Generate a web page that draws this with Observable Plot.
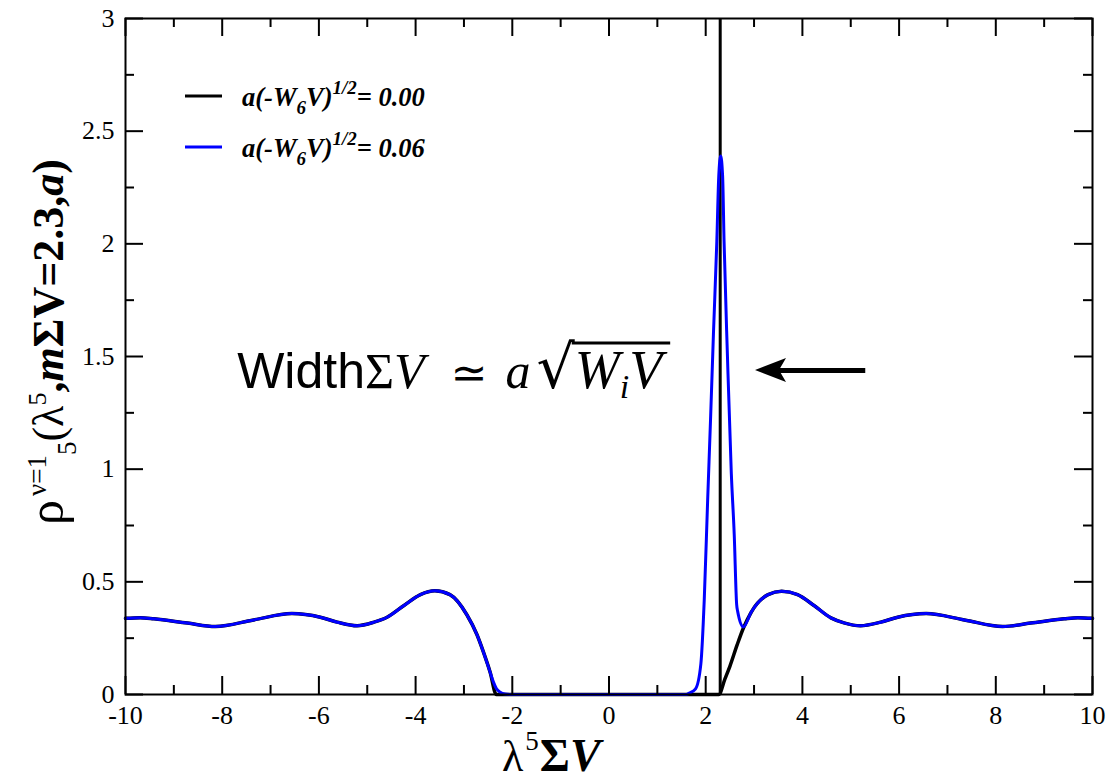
<!DOCTYPE html>
<html><head><meta charset="utf-8">
<script src="https://cdn.jsdelivr.net/npm/d3@7"></script>
<script src="https://cdn.jsdelivr.net/npm/@observablehq/plot@0.6"></script>
<style>body{margin:0;background:#fff;} svg{display:block}</style>
</head><body>
<div id="chart"></div>
<script>
// ---- data ----
const blackX = [-10, -9.7, -9.41, -8.72, -8.14, -7.35, -6.56, -5.97, -5.62, -5.21, -4.86, -4.59, -4.24, -3.9, -3.6, -3.29, -2.94, -2.73, -2.6, -2.46, -2.33, 2.27, 2.4, 2.5, 2.65, 2.78, 2.94, 3.29, 3.57, 3.9, 4.24, 4.59, 4.86, 5.2, 5.62, 5.97, 6.56, 7.35, 8.14, 8.72, 9.41, 9.7, 10];
const blackY = [0.338, 0.341, 0.336, 0.317, 0.302, 0.331, 0.359, 0.343, 0.321, 0.305, 0.321, 0.343, 0.395, 0.443, 0.46, 0.443, 0.354, 0.265, 0.19, 0.10, 0, 0, 0.07, 0.125, 0.22, 0.295, 0.365, 0.443, 0.458, 0.443, 0.395, 0.34, 0.318, 0.305, 0.321, 0.343, 0.359, 0.331, 0.302, 0.317, 0.336, 0.341, 0.338];
const blueX = [-10, -9.7, -9.41, -8.72, -8.14, -7.35, -6.56, -5.97, -5.62, -5.21, -4.86, -4.59, -4.24, -3.9, -3.6, -3.29, -2.94, -2.73, -2.6, -2.46, -2.39, -2.33, -2.25, -2.15, -2.05, 1.6, 1.66, 1.79, 1.9, 1.97, 2.04, 2.1, 2.16, 2.23, 2.27, 2.31, 2.35, 2.38, 2.45, 2.53, 2.59, 2.64, 2.66, 2.78, 2.94, 3.29, 3.57, 3.9, 4.24, 4.59, 4.86, 5.2, 5.62, 5.97, 6.56, 7.35, 8.14, 8.72, 9.41, 9.7, 10];
const blueY = [0.338, 0.341, 0.336, 0.317, 0.302, 0.331, 0.359, 0.343, 0.321, 0.305, 0.321, 0.343, 0.395, 0.443, 0.46, 0.443, 0.354, 0.265, 0.19, 0.10, 0.055, 0.027, 0.01, 0.002, 0, 0, 0.006, 0.025, 0.136, 0.42, 0.86, 1.22, 1.6, 2.01, 2.3, 2.39, 2.3, 2.01, 1.5, 0.98, 0.71, 0.40, 0.37, 0.30, 0.365, 0.443, 0.458, 0.443, 0.395, 0.34, 0.318, 0.305, 0.321, 0.343, 0.359, 0.331, 0.302, 0.317, 0.336, 0.341, 0.338];
const deltaX = [2.3];               // delta peak of the a = 0 curve
const xMajor = [-10, -8, -6, -4, -2, 0, 2, 4, 6, 8, 10];
const xMinor = [-9, -7, -5, -3, -1, 1, 3, 5, 7, 9];
const yMajor = [0, 0.5, 1, 1.5, 2, 2.5, 3];
const yMinor = [0.25, 0.75, 1.25, 1.75, 2.25, 2.75];
const seriesNames = ["0.00", "0.06"];
const seriesColors = ["#000000", "#0000ff"];

// ---- layout ----
const W = 1108, H = 781, mL = 125, mR = 16, mT = 18, mB = 87;
const fw = W - mL - mR, fh = H - mT - mB;
const majorLen = 18, minorLen = 9;
const arrowFrom = {x: 5.3, y: 1.438}, arrowTip = {x: 3.03, y: 1.438};
const annot = {x: -7.68, y: 1.358};
const serifFont = "'Liberation Serif', 'Times New Roman', serif";

const black = blackX.map((x, i) => ({x, y: blackY[i]}));
const blue = blueX.map((x, i) => ({x, y: blueY[i]}));

const tickStyle = {stroke: "black", strokeWidth: 2};
const plot = Plot.plot({
  width: W, height: H,
  marginLeft: mL, marginRight: mR, marginTop: mT, marginBottom: mB,
  style: {fontFamily: serifFont, fontSize: "26px", color: "black", background: "white"},
  x: {domain: [-10, 10]},
  y: {domain: [0, 3]},
  marks: [
    Plot.axisX(xMajor, {anchor: "bottom", tickSize: 0, tickPadding: 11, tickFormat: d => String(d), label: null, fontSize: 26, fontFamily: serifFont, fill: "black"}),
    Plot.axisY(yMajor, {anchor: "left", tickSize: 0, tickPadding: 11, tickFormat: d => String(d), label: null, fontSize: 26, fontFamily: serifFont, fill: "black"}),
    Plot.ruleX(deltaX, {x: d => d, y1: 0, y2: 3, stroke: "black", strokeWidth: 3}),
    Plot.line(black, {x: "x", y: "y", stroke: seriesColors[0], strokeWidth: 3.5, curve: "monotone-x"}),
    Plot.line(blue, {x: "x", y: "y", stroke: seriesColors[1], strokeWidth: 3, curve: "monotone-x"}),
    // inward ticks on all four sides
    Plot.tickX(xMajor, {x: d => d, insetTop: fh - majorLen, ...tickStyle}),
    Plot.tickX(xMinor, {x: d => d, insetTop: fh - minorLen, ...tickStyle}),
    Plot.tickX(xMajor, {x: d => d, insetBottom: fh - majorLen, ...tickStyle}),
    Plot.tickX(xMinor, {x: d => d, insetBottom: fh - minorLen, ...tickStyle}),
    Plot.tickY(yMajor, {y: d => d, insetRight: fw - majorLen, ...tickStyle}),
    Plot.tickY(yMinor, {y: d => d, insetRight: fw - minorLen, ...tickStyle}),
    Plot.tickY(yMajor, {y: d => d, insetLeft: fw - majorLen, ...tickStyle}),
    Plot.tickY(yMinor, {y: d => d, insetLeft: fw - minorLen, ...tickStyle}),
    Plot.frame({stroke: "black", strokeWidth: 2}),
    Plot.link([{x1: arrowFrom.x, x2: arrowTip.x + 0.45, y1: arrowFrom.y, y2: arrowTip.y}],
      {x1: "x1", x2: "x2", y1: "y1", y2: "y2", stroke: "black", strokeWidth: 5})
  ]
});
document.getElementById("chart").append(plot);

const sx = plot.scale("x"), sy = plot.scale("y");
const svg = d3.select(plot);
const layer = svg.append("g").attr("text-anchor", "start");

// arrow head
{
  const tx = sx.apply(arrowTip.x), ty = sy.apply(arrowTip.y);
  layer.append("path").attr("fill", "black")
    .attr("d", `M${tx},${ty}L${tx + 31},${ty - 12}L${tx + 24},${ty}L${tx + 31},${ty + 12}Z`);
}

// legend
seriesNames.forEach((name, i) => {
  const ly = 96 + i * 51;
  layer.append("line").attr("x1", 185).attr("x2", 222).attr("y1", ly).attr("y2", ly)
    .attr("stroke", seriesColors[i]).attr("stroke-width", 3);
  const t = layer.append("text").attr("x", 242).attr("y", ly + 10).attr("text-anchor", "start")
    .attr("font-family", serifFont).attr("font-weight", "bold")
    .attr("font-style", "italic").attr("font-size", 26.5).attr("fill", "black");
  t.append("tspan").text("a(-W");
  t.append("tspan").attr("font-size", 19).attr("dy", 8).text("6");
  t.append("tspan").attr("dy", -8).text("V)");
  t.append("tspan").attr("font-size", 19).attr("dy", -12).text("1/2");
  t.append("tspan").attr("dy", 12).text("= " + name);
});

// x axis label
{
  const t = layer.append("text").attr("x", 502).attr("y", 771).attr("text-anchor", "start")
    .attr("font-family", serifFont).attr("font-size", 44).attr("fill", "black");
  t.append("tspan").text("λ");
  t.append("tspan").attr("font-size", 27).attr("dy", -21).attr("dx", 2).text("5");
  t.append("tspan").attr("dy", 21).attr("dx", 1).attr("font-size", 46).attr("font-weight", "bold").text("Σ");
  t.append("tspan").attr("font-size", 46).attr("font-weight", "bold").attr("font-style", "italic").text("V");
}

// y axis label (rotated)
{
  const g = layer.append("g").attr("transform", "translate(63,525) rotate(-90)");
  const t = g.append("text").attr("x", 0).attr("y", 0).attr("text-anchor", "start")
    .attr("font-family", serifFont).attr("font-size", 44).attr("fill", "black");
  t.append("tspan").attr("font-size", 50).text("ρ");
  t.append("tspan").attr("font-size", 27).attr("dy", -17).attr("dx", 4).text("ν=1");
  t.append("tspan").attr("font-size", 27).attr("dy", 30).text("5");
  t.append("tspan").attr("dy", -13).text("(λ");
  t.append("tspan").attr("font-size", 26).attr("dy", -17).text("5");
  t.append("tspan").attr("dy", 17).attr("font-weight", "bold").text(",");
  t.append("tspan").attr("font-weight", "bold").attr("font-style", "italic").text("m");
  t.append("tspan").attr("font-weight", "bold").text("ΣV=2.3,");
  t.append("tspan").attr("font-weight", "bold").attr("font-style", "italic").text("a");
  t.append("tspan").attr("font-weight", "bold").text(")");
}

// annotation
{
  const ax = sx.apply(annot.x), ay = sy.apply(annot.y);
  const t = layer.append("text").attr("x", ax).attr("y", ay).attr("text-anchor", "start")
    .attr("font-size", 50).attr("fill", "black");
  t.append("tspan").attr("font-family", "'Liberation Sans', Arial, sans-serif").text("Width");
  t.append("tspan").attr("font-family", serifFont).text("Σ");
  t.append("tspan").attr("font-family", serifFont).attr("font-style", "italic").text("V");
  t.append("tspan").attr("font-family", "'DejaVu Sans', sans-serif").attr("font-size", 44).attr("dx", 26).text("≃");
  t.append("tspan").attr("font-family", serifFont).attr("font-style", "italic").attr("dx", 18).text("a");
  t.append("tspan").attr("font-family", "'DejaVu Sans', sans-serif").attr("font-size", 60).attr("dx", 6).text("√");
  t.append("tspan").attr("font-family", serifFont).attr("font-style", "italic").attr("font-size", 54).text("W");
  t.append("tspan").attr("font-family", serifFont).attr("font-style", "italic").attr("font-size", 34).attr("dy", 10).text("i");
  t.append("tspan").attr("font-family", serifFont).attr("font-style", "italic").attr("font-size", 54).attr("dy", -10).text("V");
  const node = t.node();
  const n = node.getNumberOfChars();
  const r = node.getExtentOfChar(n - 4);   // the radical sign
  const e = node.getExtentOfChar(n - 1);   // last V
  const oy = ay - 45;
  layer.append("line").attr("x1", r.x + r.width - 3).attr("x2", e.x + e.width + 8)
    .attr("y1", oy).attr("y2", oy).attr("stroke", "black").attr("stroke-width", 3);
}
</script>
</body></html>
